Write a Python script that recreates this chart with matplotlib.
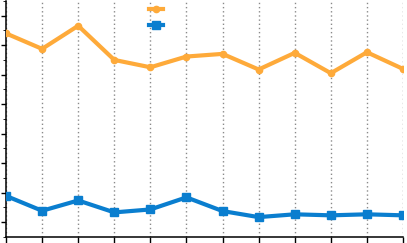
import matplotlib
matplotlib.use("Agg")
import matplotlib.pyplot as plt
from matplotlib.lines import Line2D

x_positions = list(range(12))
orange_values = [13.80, 12.75, 14.32, 12.00, 11.50, 12.23, 12.41, 11.35, 12.48, 11.10, 12.52, 11.39]
blue_values = [2.77, 1.76, 2.46, 1.65, 1.85, 2.67, 1.74, 1.33, 1.52, 1.45, 1.52, 1.45]
legend_labels = ["", ""]

ORANGE = "#FEAA3A"
BLUE = "#0A7ECF"

W, H = 407, 243
fig = plt.figure(figsize=(W / 100, H / 100), dpi=100)
ax = fig.add_axes([6 / W, 6.3 / H, 397 / W, (236.7 - 1.0) / H])

ax.plot(x_positions, orange_values, color=ORANGE, lw=3.0, marker="o", ms=4.5,
        solid_joinstyle="round", zorder=3)
ax.plot(x_positions, blue_values, color=BLUE, lw=3.0, marker="s", ms=5.5,
        zorder=3)

ax.set_xlim(0, 11)
ax.set_ylim(0, 16)
ax.set_xticks(x_positions)
ax.set_yticks([1, 3, 5, 7, 9, 11, 13, 15])
ax.set_yticks([0, 2, 4, 6, 8, 10, 12, 14, 16], minor=True)
ax.tick_params(axis="both", labelleft=False, labelbottom=False, direction="out",
               color="black", width=1.0)
ax.tick_params(axis="y", which="major", length=3.4)
ax.tick_params(axis="y", which="minor", length=2.0)
ax.tick_params(axis="x", which="major", length=6)

for s in ["top", "right"]:
    ax.spines[s].set_visible(False)
for s in ["left", "bottom"]:
    ax.spines[s].set_linewidth(1.1)
    ax.spines[s].set_color("black")

ax.xaxis.grid(True, color="#8a8a8a", linestyle=(0, (1, 2)), linewidth=1.0)
ax.set_axisbelow(True)
ax.patch.set_alpha(0)

handles = [
    Line2D([], [], color=ORANGE, lw=3.0, marker="o", ms=4.5),
    Line2D([], [], color=BLUE, lw=3.0, marker="s", ms=5.5),
]
leg = fig.legend(handles, legend_labels, loc="upper left",
                 bbox_to_anchor=(149 / W, 1 - 4.5 / H), frameon=False,
                 handlelength=1.45, labelspacing=0.65, fontsize=7,
                 handletextpad=0.3, borderpad=0.0, borderaxespad=0.0)

fig.savefig("out.png", dpi=100)
